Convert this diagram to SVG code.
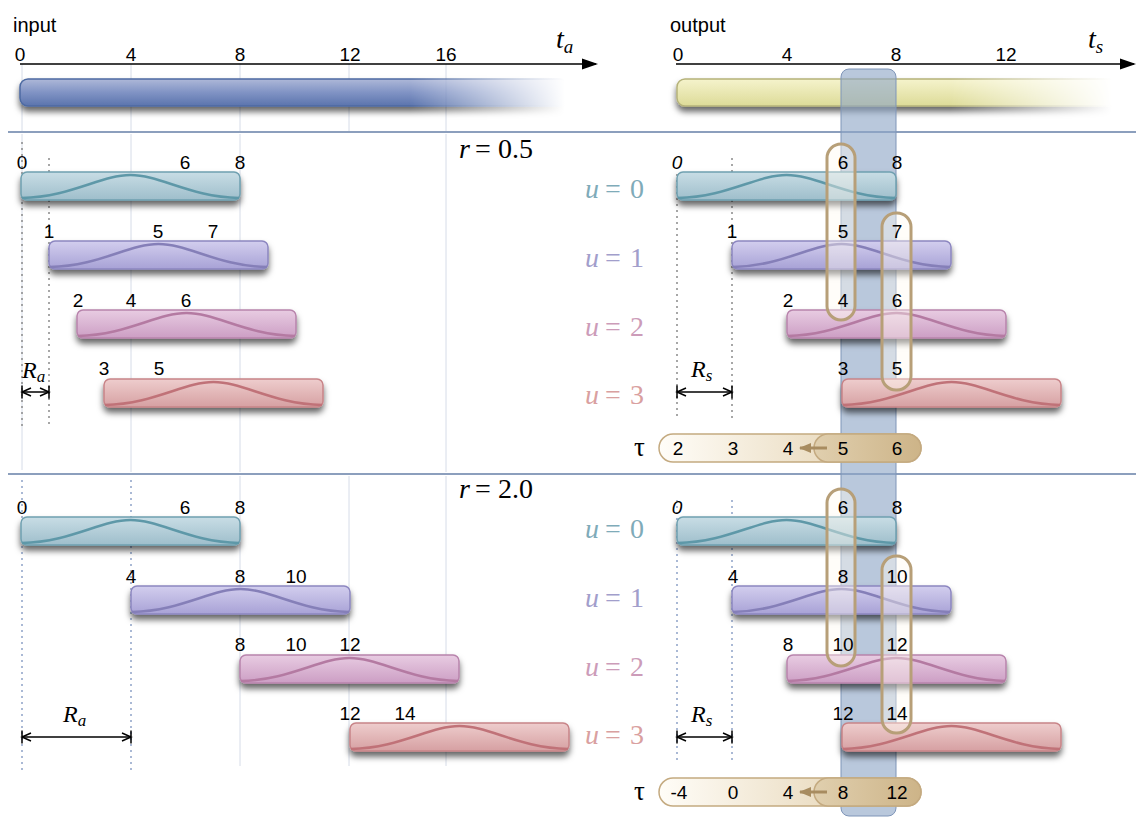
<svg xmlns="http://www.w3.org/2000/svg" xmlns:xlink="http://www.w3.org/1999/xlink" width="1136" height="818" viewBox="0 0 1136 818">
  <style>
    .sans { font-family: "Liberation Sans", Arial, sans-serif; font-size: 20px; fill: #000; }
    .num { font-family: "Liberation Sans", Arial, sans-serif; font-size: 19px; fill: #000; text-anchor: middle; }
    .math { font-family: "Liberation Serif", "Times New Roman", serif; fill: #000; }
    .it { font-style: italic; }
    .grid { stroke: #d6dce8; stroke-width: 1; fill: none; }
    .sep { stroke: #8c9fbd; stroke-width: 2; fill: none; }
    .dotg { stroke: #8a8a8a; stroke-width: 1.5; stroke-dasharray: 2 4; fill: none; }
    .dotb { stroke: #8fa3c8; stroke-width: 1.5; stroke-dasharray: 2 4; fill: none; }
    .dim { stroke: #000; stroke-width: 1.5; fill: none; marker-start: url(#dimStart); marker-end: url(#dimEnd); }
    .bar rect { stroke-width: 1.5; filter: url(#shadow); }
    .bar use { fill: none; stroke-width: 2.5; }
    .teal rect { fill: url(#gTeal); stroke: #6fa0b0; }
    .teal use { stroke: #5e98a8; }
    .lilac rect { fill: url(#gLilac); stroke: #8c86c0; }
    .lilac use { stroke: #857fb8; }
    .rose rect { fill: url(#gRose); stroke: #b884ac; }
    .rose use { stroke: #b47aa2; }
    .coral rect { fill: url(#gCoral); stroke: #c88488; }
    .coral use { stroke: #c07278; }
    .oval { fill: #fffaf0; fill-opacity: 0.4; stroke: #b79f78; stroke-width: 3; }
    .ulab { font-family: "Liberation Serif", "Times New Roman", serif; font-size: 28px; }
    .u0 { fill: #7fabb9; } .u1 { fill: #a29ecb; } .u2 { fill: #cc9cb9; } .u3 { fill: #d9a0a0; }
  </style>
  <defs>
    <filter id="shadow" x="-10%" y="-40%" width="120%" height="200%">
      <feDropShadow dx="0" dy="5" stdDeviation="3" flood-color="#000" flood-opacity="0.6"/>
    </filter>
    <linearGradient id="gTeal" x1="0" y1="0" x2="0" y2="1">
      <stop offset="0" stop-color="#c8dde5"/><stop offset="1" stop-color="#9ebecb"/>
    </linearGradient>
    <linearGradient id="gLilac" x1="0" y1="0" x2="0" y2="1">
      <stop offset="0" stop-color="#d2ceee"/><stop offset="1" stop-color="#a8a2d6"/>
    </linearGradient>
    <linearGradient id="gRose" x1="0" y1="0" x2="0" y2="1">
      <stop offset="0" stop-color="#e8cce2"/><stop offset="1" stop-color="#cc9ec4"/>
    </linearGradient>
    <linearGradient id="gCoral" x1="0" y1="0" x2="0" y2="1">
      <stop offset="0" stop-color="#eecdcd"/><stop offset="1" stop-color="#d6a0a2"/>
    </linearGradient>
    <linearGradient id="gInput" x1="0" y1="0" x2="0" y2="1">
      <stop offset="0" stop-color="#aeb8d8"/><stop offset="0.5" stop-color="#8093c4"/><stop offset="1" stop-color="#5b74ad"/>
    </linearGradient>
    <linearGradient id="gOutput" x1="0" y1="0" x2="0" y2="1">
      <stop offset="0" stop-color="#f5f3cc"/><stop offset="1" stop-color="#dddb98"/>
    </linearGradient>
    <linearGradient id="fadeIn" gradientUnits="userSpaceOnUse" x1="410" y1="0" x2="565" y2="0">
      <stop offset="0" stop-color="#fff"/><stop offset="1" stop-color="#000"/>
    </linearGradient>
    <linearGradient id="fadeOut" gradientUnits="userSpaceOnUse" x1="950" y1="0" x2="1112" y2="0">
      <stop offset="0" stop-color="#fff"/><stop offset="1" stop-color="#000"/>
    </linearGradient>
    <mask id="maskIn" maskUnits="userSpaceOnUse" x="0" y="60" width="620" height="70">
      <rect x="0" y="60" width="620" height="70" fill="url(#fadeIn)"/>
    </mask>
    <mask id="maskOut" maskUnits="userSpaceOnUse" x="650" y="60" width="486" height="70">
      <rect x="650" y="60" width="486" height="70" fill="url(#fadeOut)"/>
    </mask>
    <linearGradient id="gTau" x1="0" y1="0" x2="1" y2="0">
      <stop offset="0" stop-color="#fffdf8"/><stop offset="0.6" stop-color="#ecdfc6"/><stop offset="1" stop-color="#e4d2b0"/>
    </linearGradient>
    <linearGradient id="gTauDark" x1="0" y1="0" x2="1" y2="0">
      <stop offset="0" stop-color="#e0cfae"/><stop offset="1" stop-color="#cdb488"/>
    </linearGradient>
    <!-- bell-shaped window curve inside a 219 x 28 frame -->
    <path id="bell" d="M 1,26 C 50,25 80,3 109.5,3 C 139,3 169,25 218,26"/>
    <marker id="dimEnd" markerUnits="userSpaceOnUse" viewBox="-12 -8 14 16" refX="0" refY="0" markerWidth="14" markerHeight="16" orient="auto">
      <path d="M -9,-4 L 0,0 L -9,4 M 0,-6.5 V 6.5" fill="none" stroke="#000" stroke-width="1.5"/>
    </marker>
    <marker id="dimStart" markerUnits="userSpaceOnUse" viewBox="-12 -8 14 16" refX="0" refY="0" markerWidth="14" markerHeight="16" orient="auto-start-reverse">
      <path d="M -9,-4 L 0,0 L -9,4 M 0,-6.5 V 6.5" fill="none" stroke="#000" stroke-width="1.5"/>
    </marker>
    <marker id="axisHead" markerUnits="userSpaceOnUse" viewBox="0 -6 16 12" refX="14" refY="0" markerWidth="16" markerHeight="12" orient="auto">
      <path d="M 0,-5.5 L 16,0 L 0,5.5 Z" fill="#000"/>
    </marker>
    <marker id="tauHead" markerUnits="userSpaceOnUse" viewBox="0 -6 12 12" refX="11" refY="0" markerWidth="12" markerHeight="12" orient="auto">
      <path d="M 0,-5 L 12,0 L 0,5 Z" fill="#a88c60"/>
    </marker>
  </defs>

  <rect width="1136" height="818" fill="#fff"/>

  <!-- grid and guide lines -->
  <g id="grid">
    <path class="grid" d="M22,64 V132 M131,64 V132 M240,64 V132 M349,64 V132 M446,64 V132"/>
    <path class="grid" d="M22,134 V470 M131,134 V472 M240,134 V472 M446,134 V472"/>
    <path class="grid" d="M240,476 V766 M349,476 V766 M446,476 V766"/>
    <path class="dotg" d="M22,142 V428 M49,158 V428"/>
    <path class="dotg" d="M677,174 V420 M732,158 V420"/>
    <path class="dotb" d="M22,480 V770 M131,480 V770"/>
    <path class="dotb" d="M677,500 V762 M732,500 V762"/>
    <path class="sep" d="M8,132 H1136 M8,474 H1136"/>
  </g>

  <!-- input timeline -->
  <g id="input-axis">
    <text class="sans" x="13" y="32">input</text>
    <line x1="20" y1="64" x2="596" y2="64" stroke="#000" stroke-width="1.5" marker-end="url(#axisHead)"/>
    <text class="num" x="20" y="61">0</text>
    <text class="num" x="131" y="61">4</text>
    <text class="num" x="240" y="61">8</text>
    <text class="num" x="350" y="61">12</text>
    <text class="num" x="446" y="61">16</text>
    <text class="math it" x="556" y="48" font-size="28">t<tspan font-size="19" dy="5">a</tspan></text>
    <g mask="url(#maskIn)">
      <rect x="20" y="79" width="548" height="27" rx="8" fill="url(#gInput)" stroke="#4d6aa2" stroke-width="1.5" filter="url(#shadow)"/>
    </g>
  </g>

  <!-- output timeline -->
  <g id="output-axis">
    <text class="sans" x="670" y="32">output</text>
    <line x1="676" y1="64" x2="1134" y2="64" stroke="#000" stroke-width="1.5" marker-end="url(#axisHead)"/>
    <text class="num" x="678" y="61">0</text>
    <text class="num" x="787" y="61">4</text>
    <text class="num" x="896" y="61">8</text>
    <text class="num" x="1006" y="61">12</text>
    <text class="math it" x="1088" y="48" font-size="28">t<tspan font-size="19" dy="5">s</tspan></text>
    <g mask="url(#maskOut)">
      <rect x="677" y="79" width="440" height="27" rx="8" fill="url(#gOutput)" stroke="#b5b27a" stroke-width="1.5" filter="url(#shadow)"/>
    </g>
  </g>

  <!-- current output frame highlight -->
  <rect id="frame-band" x="841" y="69" width="55" height="747" rx="8" fill="#8ea6c6" fill-opacity="0.62" stroke="#7f95b8" stroke-width="1"/>

  <!-- section r = 0.5 -->
  <g id="section-r05">
    <text class="math" x="459" y="158" font-size="28"><tspan class="it">r</tspan><tspan x="475">=</tspan><tspan x="498">0.5</tspan></text>

    <g id="a05-u0" class="bar teal" transform="translate(21,172)"><rect width="219" height="28" rx="6"/><use xlink:href="#bell"/></g>
    <g id="a05-u1" class="bar lilac" transform="translate(49,241)"><rect width="219" height="28" rx="6"/><use xlink:href="#bell"/></g>
    <g id="a05-u2" class="bar rose" transform="translate(77,310)"><rect width="219" height="28" rx="6"/><use xlink:href="#bell"/></g>
    <g id="a05-u3" class="bar coral" transform="translate(104,379)"><rect width="219" height="28" rx="6"/><use xlink:href="#bell"/></g>

    <g id="s05-u0" class="bar teal" transform="translate(677,172)"><rect width="219" height="28" rx="6"/><use xlink:href="#bell"/></g>
    <g id="s05-u1" class="bar lilac" transform="translate(732,241)"><rect width="219" height="28" rx="6"/><use xlink:href="#bell"/></g>
    <g id="s05-u2" class="bar rose" transform="translate(787,310)"><rect width="219" height="28" rx="6"/><use xlink:href="#bell"/></g>
    <g id="s05-u3" class="bar coral" transform="translate(842,379)"><rect width="219" height="28" rx="6"/><use xlink:href="#bell"/></g>

    <g id="u-labels-05" class="ulab">
      <text class="u0" y="198"><tspan x="585" font-style="italic">u</tspan><tspan x="605">=</tspan><tspan x="630">0</tspan></text>
      <text class="u1" y="267"><tspan x="585" font-style="italic">u</tspan><tspan x="605">=</tspan><tspan x="630">1</tspan></text>
      <text class="u2" y="336"><tspan x="585" font-style="italic">u</tspan><tspan x="605">=</tspan><tspan x="630">2</tspan></text>
      <text class="u3" y="404"><tspan x="585" font-style="italic">u</tspan><tspan x="605">=</tspan><tspan x="630">3</tspan></text>
    </g>

    <g id="tau-05">
      <text class="math" x="634" y="456" font-size="27">τ</text>
      <rect x="659" y="434" width="262" height="28" rx="14" fill="url(#gTau)" stroke="#c4aa80" stroke-width="1.5"/>
      <rect x="814" y="434" width="107" height="28" rx="14" fill="url(#gTauDark)" stroke="#c4aa80" stroke-width="1.5"/>
      <line x1="827" y1="448" x2="800" y2="448" stroke="#a88c60" stroke-width="3" marker-end="url(#tauHead)"/>
      <text class="num" x="678" y="455">2</text>
      <text class="num" x="733" y="455">3</text>
      <text class="num" x="788" y="455">4</text>
      <text class="num" x="843" y="455">5</text>
      <text class="num" x="897" y="455">6</text>
    </g>

    <rect id="pick-05-a" class="oval" x="827" y="144" width="28" height="176" rx="14"/>
    <rect id="pick-05-b" class="oval" x="882" y="213" width="29" height="177" rx="14"/>

    <g id="ticks-05">
      <text class="num" x="22" y="169">0</text><text class="num" x="185" y="169">6</text><text class="num" x="240" y="169">8</text>
      <text class="num" x="49" y="238">1</text><text class="num" x="158" y="238">5</text><text class="num" x="213" y="238">7</text>
      <text class="num" x="78" y="307">2</text><text class="num" x="131" y="307">4</text><text class="num" x="186" y="307">6</text>
      <text class="num" x="104" y="375">3</text><text class="num" x="159" y="375">5</text>
      <text class="num" x="677" y="169" font-style="italic">0</text><text class="num" x="843" y="169">6</text><text class="num" x="897" y="169">8</text>
      <text class="num" x="732" y="238">1</text><text class="num" x="843" y="238">5</text><text class="num" x="897" y="238">7</text>
      <text class="num" x="788" y="307">2</text><text class="num" x="843" y="307">4</text><text class="num" x="897" y="307">6</text>
      <text class="num" x="843" y="375">3</text><text class="num" x="897" y="375">5</text>
    </g>

    <g id="hop-05">
      <line class="dim" x1="22" y1="392" x2="49" y2="392"/>
      <text class="math it" x="22" y="378" font-size="24">R<tspan font-size="17" dy="4">a</tspan></text>
      <line class="dim" x1="677" y1="392" x2="732" y2="392"/>
      <text class="math it" x="691" y="377" font-size="24">R<tspan font-size="17" dy="4">s</tspan></text>
    </g>
  </g>

  <!-- section r = 2.0 -->
  <g id="section-r20">
    <text class="math" x="459" y="498" font-size="28"><tspan class="it">r</tspan><tspan x="475">=</tspan><tspan x="498">2.0</tspan></text>

    <g id="a20-u0" class="bar teal" transform="translate(21,517)"><rect width="219" height="28" rx="6"/><use xlink:href="#bell"/></g>
    <g id="a20-u1" class="bar lilac" transform="translate(131,586)"><rect width="219" height="28" rx="6"/><use xlink:href="#bell"/></g>
    <g id="a20-u2" class="bar rose" transform="translate(240,655)"><rect width="219" height="28" rx="6"/><use xlink:href="#bell"/></g>
    <g id="a20-u3" class="bar coral" transform="translate(350,723)"><rect width="219" height="28" rx="6"/><use xlink:href="#bell"/></g>

    <g id="s20-u0" class="bar teal" transform="translate(677,517)"><rect width="219" height="28" rx="6"/><use xlink:href="#bell"/></g>
    <g id="s20-u1" class="bar lilac" transform="translate(732,586)"><rect width="219" height="28" rx="6"/><use xlink:href="#bell"/></g>
    <g id="s20-u2" class="bar rose" transform="translate(787,655)"><rect width="219" height="28" rx="6"/><use xlink:href="#bell"/></g>
    <g id="s20-u3" class="bar coral" transform="translate(842,723)"><rect width="219" height="28" rx="6"/><use xlink:href="#bell"/></g>

    <g id="u-labels-20" class="ulab">
      <text class="u0" y="538"><tspan x="585" font-style="italic">u</tspan><tspan x="605">=</tspan><tspan x="630">0</tspan></text>
      <text class="u1" y="607"><tspan x="585" font-style="italic">u</tspan><tspan x="605">=</tspan><tspan x="630">1</tspan></text>
      <text class="u2" y="676"><tspan x="585" font-style="italic">u</tspan><tspan x="605">=</tspan><tspan x="630">2</tspan></text>
      <text class="u3" y="744"><tspan x="585" font-style="italic">u</tspan><tspan x="605">=</tspan><tspan x="630">3</tspan></text>
    </g>

    <g id="tau-20">
      <text class="math" x="634" y="800" font-size="27">τ</text>
      <rect x="659" y="778" width="262" height="28" rx="14" fill="url(#gTau)" stroke="#c4aa80" stroke-width="1.5"/>
      <rect x="814" y="778" width="107" height="28" rx="14" fill="url(#gTauDark)" stroke="#c4aa80" stroke-width="1.5"/>
      <line x1="827" y1="792" x2="800" y2="792" stroke="#a88c60" stroke-width="3" marker-end="url(#tauHead)"/>
      <text class="num" x="679" y="799">-4</text>
      <text class="num" x="733" y="799">0</text>
      <text class="num" x="788" y="799">4</text>
      <text class="num" x="843" y="799">8</text>
      <text class="num" x="897" y="799">12</text>
    </g>

    <rect id="pick-20-a" class="oval" x="827" y="489" width="28" height="177" rx="14"/>
    <rect id="pick-20-b" class="oval" x="882" y="556" width="29" height="177" rx="14"/>

    <g id="ticks-20">
      <text class="num" x="22" y="514">0</text><text class="num" x="185" y="514">6</text><text class="num" x="240" y="514">8</text>
      <text class="num" x="131" y="583">4</text><text class="num" x="240" y="583">8</text><text class="num" x="296" y="583">10</text>
      <text class="num" x="240" y="651">8</text><text class="num" x="296" y="651">10</text><text class="num" x="350" y="651">12</text>
      <text class="num" x="350" y="720">12</text><text class="num" x="405" y="720">14</text>
      <text class="num" x="677" y="514" font-style="italic">0</text><text class="num" x="843" y="514">6</text><text class="num" x="897" y="514">8</text>
      <text class="num" x="733" y="583">4</text><text class="num" x="843" y="583">8</text><text class="num" x="897" y="583">10</text>
      <text class="num" x="788" y="651">8</text><text class="num" x="843" y="651">10</text><text class="num" x="897" y="651">12</text>
      <text class="num" x="843" y="720">12</text><text class="num" x="897" y="720">14</text>
    </g>

    <g id="hop-20">
      <line class="dim" x1="22" y1="737" x2="131" y2="737"/>
      <text class="math it" x="63" y="722" font-size="24">R<tspan font-size="17" dy="4">a</tspan></text>
      <line class="dim" x1="677" y1="737" x2="732" y2="737"/>
      <text class="math it" x="691" y="722" font-size="24">R<tspan font-size="17" dy="4">s</tspan></text>
    </g>
  </g>
</svg>
